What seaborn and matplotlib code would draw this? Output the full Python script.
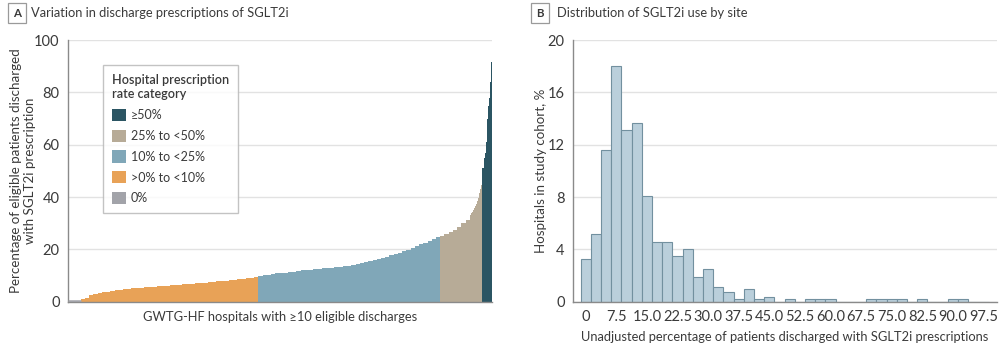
import numpy as np
import pandas as pd
import matplotlib
matplotlib.use("Agg")
import matplotlib.pyplot as plt
import seaborn as sns
from matplotlib.patches import Patch

# ---------------- Panel A data (hospitals sorted by prescription rate) -------------
# left edge of each hospital group, as percentile of hospitals
hospital_rank_pct = list(range(95)) + [95.0, 95.25, 95.5, 95.75, 96.0, 96.25, 96.5, 96.75,
                                       97.0, 97.25, 97.5, 97.75, 98.0, 98.25, 98.5, 98.75,
                                       99.0, 99.25, 99.5, 99.75, 100.0]
rank_end = 100.25
rx_rate = [0, 0, 0,
           1.0, 1.6, 2.5, 3.1, 3.4, 3.6, 3.8, 4.1, 4.4, 4.6, 4.8, 5.0, 5.1, 5.3, 5.4, 5.5,
           5.7, 5.8, 5.9, 6.0, 6.1, 6.3, 6.4, 6.5, 6.7, 6.8, 6.9, 7.0, 7.2, 7.3, 7.5, 7.6,
           7.8, 7.9, 8.1, 8.3, 8.4, 8.6, 8.8, 9.0, 9.2, 9.5,
           10.0, 10.2, 10.4, 10.6, 10.8, 10.9, 11.1, 11.3, 11.5, 11.8, 12.0, 12.1, 12.3, 12.4,
           12.5, 12.7, 12.8, 13.0, 13.1, 13.3, 13.6, 13.8, 14.1, 14.4, 14.7, 15.1, 15.4, 15.8,
           16.2, 16.7, 17.2, 17.7, 18.2, 18.7, 19.3, 19.8, 20.4, 21.2, 21.9, 22.6, 23.3, 24.0,
           24.6,
           25.3, 25.9, 26.6, 27.4, 28.7, 30.0, 31.4,
           33.1, 33.8, 34.4, 35.0, 35.8, 36.6, 37.4, 38.4, 39.5, 41.5, 43.0, 44.6,
           51.0, 55.0, 57.0, 61.0, 70.0, 75.0, 78.0, 84.0, 91.5]
categories = ["≥50%", "25% to <50%", "10% to <25%", ">0% to <10%", "0%"]
cat_colors = ["#2b5563", "#b7ab97", "#80a7b8", "#e8a257", "#a2a3a9"]

# ---------------- Panel B data (histogram of site-level use) ----------------------
bin_centers = [0, 2.5, 5, 7.5, 10, 12.5, 15, 17.5, 20, 22.5, 25, 27.5, 30, 32.5, 35, 37.5,
               40, 42.5, 45, 47.5, 50, 52.5, 55, 57.5, 60, 62.5, 65, 67.5, 70, 72.5, 75,
               77.5, 80, 82.5, 85, 87.5, 90, 92.5, 95, 97.5]
hosp_pct = [3.3, 5.2, 11.6, 18.0, 13.1, 13.7, 8.1, 4.6, 4.6, 3.5, 4.0, 1.9, 2.5, 1.15, 0.76,
            0.2, 0.95, 0.2, 0.38, 0, 0.2, 0, 0.2, 0.2, 0.2, 0, 0, 0, 0.2, 0.2, 0.2, 0.2, 0,
            0.2, 0, 0, 0.2, 0.2, 0, 0]
x_ticks_b = [0, 7.5, 15, 22.5, 30, 37.5, 45, 52.5, 60, 67.5, 75, 82.5, 90, 97.5]

# ---------------- style -----------------------------------------------------------
sns.set_theme(style="white")
plt.rcParams["font.family"] = ["Lato", "DejaVu Sans"]
TXT = "#3a3a3a"
GRID = "#e2e2e2"
SPINE = "#8a8a8a"
LBL = 9.3

fig = plt.figure(figsize=(10, 3.46), dpi=100)
axA = fig.add_axes([0.068, 0.128, 0.424, 0.756])
axB = fig.add_axes([0.573, 0.128, 0.424, 0.756])

# ---------------- Panel A ---------------------------------------------------------
edges = [float(v) for v in hospital_rank_pct] + [rank_end]
mids = [(a + b) / 2 for a, b in zip(edges[:-1], edges[1:])]
dfA = pd.DataFrame({"rank": mids, "rate": rx_rate})
dfA["category"] = pd.cut(dfA["rate"], bins=[-1, 0, 9.9999, 24.9999, 49.9999, 200],
                         labels=["0%", ">0% to <10%", "10% to <25%", "25% to <50%", "≥50%"]).astype(str)
pal = dict(zip(categories, cat_colors))
sns.histplot(data=dfA, x="rank", weights="rate", hue="category", bins=edges,
             palette=pal, hue_order=categories, alpha=1, linewidth=0, edgecolor="none",
             legend=False, ax=axA)
# the 0% hospitals sit on the baseline in gray
n_zero = int((dfA["rate"] == 0).sum())
axA.hlines(0.4, edges[0], edges[n_zero], color=cat_colors[-1], lw=1.8, zorder=3)

axA.set_xlim(0, rank_end)
axA.set_ylim(0, 100)
axA.set_yticks([0, 20, 40, 60, 80, 100])
axA.set_xticks([])
axA.yaxis.grid(True, color=GRID, lw=1)
axA.set_axisbelow(True)
for s in ["top", "right"]:
    axA.spines[s].set_visible(False)
for s in ["left", "bottom"]:
    axA.spines[s].set_color(SPINE)
    axA.spines[s].set_linewidth(1)
axA.tick_params(axis="y", length=4, width=1, color=SPINE, labelsize=10.5, labelcolor=TXT, pad=2)
axA.set_ylabel("Percentage of eligible patients discharged\nwith SGLT2i prescription",
               fontsize=LBL + 0.3, color=TXT, linespacing=1.2)
axA.yaxis.set_label_coords(-0.075, 0.5)
axA.set_xlabel("GWTG-HF hospitals with ≥10 eligible discharges", fontsize=LBL, color=TXT)
axA.xaxis.set_label_coords(0.5, -0.034)
axA.xaxis.label.set_va("top")

handles = [Patch(facecolor=c, edgecolor="none") for c in cat_colors]
leg = axA.legend(handles, categories, title="Hospital prescription\nrate category",
                 loc="upper left", bbox_to_anchor=(0.083, 0.905), borderaxespad=0,
                 frameon=True, fancybox=False, edgecolor="#b5b5b5", fontsize=9,
                 title_fontsize=9, handlelength=1.12, handleheight=1.12,
                 handletextpad=0.4, labelspacing=0.68, borderpad=0.7, alignment="left")
leg.get_frame().set_linewidth(1)
leg.get_title().set_color(TXT)
leg.get_title().set_fontweight("semibold")
leg.get_title().set_linespacing(1.25)
for t in leg.get_texts():
    t.set_color(TXT)

# ---------------- Panel B ---------------------------------------------------------
b_edges = [c - 1.25 for c in bin_centers] + [bin_centers[-1] + 1.25]
sns.histplot(x=bin_centers, weights=hosp_pct, bins=b_edges, color="#bacfdb",
             alpha=1, edgecolor="#72909f", linewidth=0.8, ax=axB)
axB.set_xlim(-3.1, 100.8)
axB.set_ylim(0, 20)
axB.set_yticks([0, 4, 8, 12, 16, 20])
axB.set_xticks(x_ticks_b)
axB.set_xticklabels(["0"] + [f"{v:.1f}" for v in x_ticks_b[1:]])
axB.yaxis.grid(True, color=GRID, lw=1)
axB.set_axisbelow(True)
for s in ["top", "right"]:
    axB.spines[s].set_visible(False)
for s in ["left", "bottom"]:
    axB.spines[s].set_color(SPINE)
    axB.spines[s].set_linewidth(1)
axB.tick_params(axis="both", length=4, width=1, color=SPINE, labelsize=10.5,
                labelcolor=TXT, pad=2)
axB.set_ylabel("Hospitals in study cohort, %", fontsize=LBL + 0.3, color=TXT)
axB.yaxis.set_label_coords(-0.062, 0.5)
axB.set_xlabel("Unadjusted percentage of patients discharged with SGLT2i prescriptions",
               fontsize=LBL, color=TXT)
axB.xaxis.set_label_coords(0.5, -0.112)
axB.xaxis.label.set_va("top")

# ---------------- Panel titles ----------------------------------------------------
box = dict(boxstyle="square,pad=0.42", facecolor="white", edgecolor="#9a9a9a", lw=0.9)
fig.text(0.017, 0.962, "A", fontsize=8.3, fontweight="bold", color=TXT, ha="center",
         va="center", bbox=box)
fig.text(0.031, 0.962, "Variation in discharge prescriptions of SGLT2i", fontsize=LBL,
         color=TXT, ha="left", va="center")
fig.text(0.540, 0.962, "B", fontsize=8.3, fontweight="bold", color=TXT, ha="center",
         va="center", bbox=box)
fig.text(0.557, 0.962, "Distribution of SGLT2i use by site", fontsize=LBL,
         color=TXT, ha="left", va="center")

fig.savefig("out.png", dpi=100)
